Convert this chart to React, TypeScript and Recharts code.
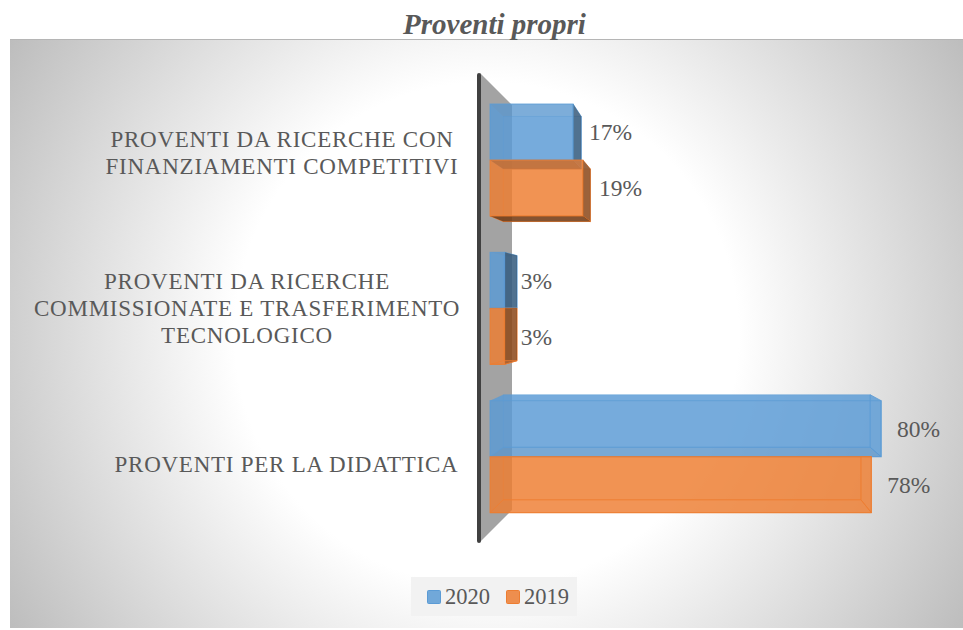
import React from "react";
import { BarChart, Bar, XAxis, YAxis, Legend, LabelList } from "recharts";

// DATA
const categoryLines = [
  ["PROVENTI DA RICERCHE CON", "FINANZIAMENTI COMPETITIVI"],
  ["PROVENTI DA RICERCHE", "COMMISSIONATE E TRASFERIMENTO", "TECNOLOGICO"],
  ["PROVENTI PER LA DIDATTICA"],
];
const values2020 = [17, 3, 80];
const values2019 = [19, 3, 78];

const chartData = categoryLines.map((lines, i) => ({
  name: lines.join(" "),
  y2020: values2020[i],
  y2019: values2019[i],
}));

const FONT = "'Liberation Serif', serif";
const TEXT = "#595959";
const BLUE = "#5b9bd5";
const ORANGE = "#ed7d31";

// label blocks are centred on themselves and right aligned on the axis
const blockWidths = [354, 424, 345];
const tickShift = [-7, 0, 8];

// fake 3D: the far face of a bar shrinks toward this point
const VP_X = 704;
const VP_Y = 305;
const DEPTH = 0.062;

function CategoryTick(props: any) {
  const { y, index } = props;
  const lines = categoryLines[index] || [];
  const cx = 459 - blockWidths[index] / 2;
  const first = y + tickShift[index] - ((lines.length - 1) * 27) / 2 + 7;
  return (
    <text textAnchor="middle" fill={TEXT} fontFamily={FONT} fontSize={23} letterSpacing={0.75}>
      {lines.map((line, i) => (
        <tspan key={i} x={cx} y={first + i * 27}>
          {line}
        </tspan>
      ))}
    </text>
  );
}

function Box3D(props: any) {
  const { x, y, width, height, fill, stacked } = props;
  const x1 = x + width;
  const y1 = y + height;
  const bx0 = x + DEPTH * (VP_X - x);
  const bx1 = x1 + DEPTH * (VP_X - x1);
  let by0 = y + DEPTH * (VP_Y - y);
  const by1 = y1 + DEPTH * (VP_Y - y1);

  // the lower bar's far end sits behind the upper bar, so don't paint over it
  const hideTop = stacked && by0 < y;
  if (hideTop) by0 = y;

  const rightOut = bx1 > x1;
  const bottomOut = by1 > y1;
  const topIn = by0 > y;

  const poly = (pts: number[][]) => pts.map((p) => p.join(",")).join(" ");
  const right = poly([[x1, y], [bx1, by0], [bx1, by1], [x1, y1]]);
  const bottom = poly([[x, y1], [x1, y1], [bx1, by1], [bx0, by1]]);

  return (
    <g>
      <rect x={bx0} y={by0} width={bx1 - bx0} height={by1 - by0} fill={fill} fillOpacity={0.35} stroke={fill} strokeOpacity={0.4} />
      {!hideTop && (
        <polygon points={poly([[x, y], [x1, y], [bx1, by0], [bx0, by0]])} fill={topIn ? "#444" : fill} fillOpacity={topIn ? 0.15 : 0.75} />
      )}
      <polygon points={poly([[x, y], [bx0, by0], [bx0, by1], [x, y1]])} fill={fill} fillOpacity={0.3} />
      <polygon points={right} fill={fill} fillOpacity={rightOut ? 0.7 : 0.3} stroke={fill} strokeOpacity={0.8} />
      {rightOut && <polygon points={right} fill="#000" fillOpacity={0.35} />}
      <polygon
        points={bottom}
        fill={bottomOut || stacked ? fill : "#666"}
        fillOpacity={bottomOut ? 0.7 : 0.3}
        stroke={fill}
        strokeOpacity={0.8}
      />
      {bottomOut && <polygon points={bottom} fill="#000" fillOpacity={0.45} />}
      <rect x={x} y={y} width={width} height={height} fill={fill} fillOpacity={0.75} stroke={fill} strokeOpacity={0.8} />
    </g>
  );
}

function LegendItems(props: any) {
  const { payload } = props;
  return (
    <div style={{ display: "flex", justifyContent: "flex-start", alignItems: "center", fontFamily: FONT, fontSize: 22.5, color: TEXT }}>
      {(payload || []).map((item: any) => (
        <div key={item.value} style={{ display: "flex", alignItems: "center", marginRight: 16 }}>
          <svg width={14} height={14} style={{ marginRight: 4 }}>
            <rect x={0.5} y={0.5} width={13} height={13} rx={1} fill={item.color} fillOpacity={0.85} stroke={item.color} />
          </svg>
          {item.value}
        </div>
      ))}
    </div>
  );
}

export default function App() {
  return (
    <div style={{ position: "absolute", left: 0, top: 0, width: 963, height: 630, overflow: "hidden", background: "#fff" }}>
      {/* PLOT BACKGROUND */}
      <div
        style={{
          position: "absolute",
          left: 10,
          top: 39,
          width: 953,
          height: 589,
          borderTop: "1px solid #b5b5b5",
          boxSizing: "border-box",
          background: "radial-gradient(circle farthest-corner at 50% 50%, #ffffff 0%, #ffffff 45%, #bdbdbd 100%)",
        }}
      />

      {/* TITLE */}
      <div
        style={{
          position: "absolute",
          left: 0,
          top: 9,
          width: 989,
          textAlign: "center",
          fontFamily: FONT,
          fontStyle: "italic",
          fontWeight: "bold",
          fontSize: 29,
          lineHeight: "30px",
          color: TEXT,
        }}
      >
        Proventi propri
      </div>

      {/* WALL */}
      <svg width={963} height={630} style={{ position: "absolute", left: 0, top: 0 }}>
        <polygon points="480,73 512,105 512,510 480,542" fill="#a3a3a3" />
        <line x1={479} y1={75} x2={479} y2={541} stroke="#404040" strokeWidth={4} strokeLinecap="round" />
      </svg>

      {/* LEGEND BOX */}
      <div style={{ position: "absolute", left: 411, top: 577, width: 166, height: 39, background: "#f2f2f2" }} />

      <div style={{ position: "absolute", left: 0, top: 0 }}>
        <BarChart
          width={963}
          height={630}
          data={chartData}
          layout="vertical"
          barSize={56}
          barGap={0}
          margin={{ top: 86, right: 33, bottom: 73, left: 0 }}
        >
          <XAxis type="number" domain={[0, 90]} hide />
          <YAxis
            type="category"
            dataKey="name"
            width={490}
            axisLine={false}
            tickLine={false}
            interval={0}
            tick={CategoryTick}
          />
          <Legend
            verticalAlign="bottom"
            itemSorter={null}
            content={LegendItems}
            wrapperStyle={{ position: "absolute", left: 427, top: 584, width: 160, bottom: "auto" }}
          />
          <Bar dataKey="y2020" name="2020" fill={BLUE} shape={Box3D} isAnimationActive={false}>
            <LabelList dataKey="y2020" position="right" offset={16} dy={0} formatter={(v: number) => v + "%"} fill={TEXT} fontFamily={FONT} fontSize={23.5} />
          </Bar>
          <Bar
            dataKey="y2019"
            name="2019"
            fill={ORANGE}
            shape={(p: any) => <Box3D {...p} stacked />}
            isAnimationActive={false}
          >
            <LabelList dataKey="y2019" position="right" offset={16} dy={0} formatter={(v: number) => v + "%"} fill={TEXT} fontFamily={FONT} fontSize={23.5} />
          </Bar>
        </BarChart>
      </div>
    </div>
  );
}
